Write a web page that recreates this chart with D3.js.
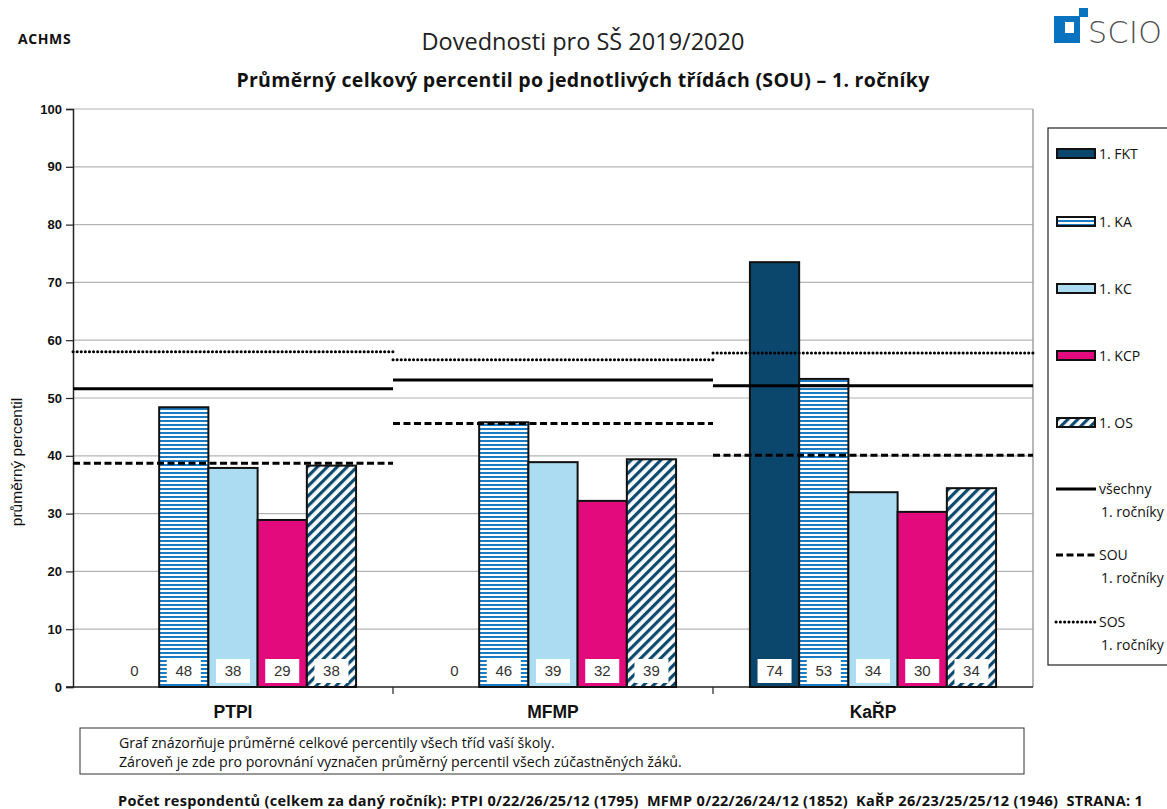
<!DOCTYPE html>
<html><head><meta charset="utf-8">
<script src="https://cdn.jsdelivr.net/npm/d3@7"></script>
<style>
body{margin:0;background:#fff;}
svg{display:block;}
</style></head>
<body>
<svg id="c" width="1167" height="809"></svg>
<script>
const categories = ["PTPI", "MFMP", "KaŘP"];
const series = ["1. FKT", "1. KA", "1. KC", "1. KCP", "1. OS"];
const valFKT = [0, 0, 73.5];
const valKA  = [48.4, 45.8, 53.3];
const valKC  = [37.9, 38.9, 33.7];
const valKCP = [28.9, 32.2, 30.3];
const valOS  = [38.3, 39.4, 34.4];
const labelsFKT = ["0", "0", "74"];
const labelsKA  = ["48", "46", "53"];
const labelsKC  = ["38", "39", "34"];
const labelsKCP = ["29", "32", "30"];
const labelsOS  = ["38", "39", "34"];
const lineAll = [51.6, 53.1, 52.1];   // všechny 1. ročníky
const lineSOU = [38.7, 45.6, 40.1];   // SOU 1. ročníky
const lineSOS = [58.0, 56.6, 57.8];   // SOS 1. ročníky
const yTicks = [0,10,20,30,40,50,60,70,80,90,100];
const lineNames = [["všechny","1. ročníky"],["SOU","1. ročníky"],["SOS","1. ročníky"]];

const values = [valFKT, valKA, valKC, valKCP, valOS];
const labels = [labelsFKT, labelsKA, labelsKC, labelsKCP, labelsOS];
const fills = ["#0b466c", "url(#pKA)", "#acdcf2", "#e20a7c", "url(#pOS)"];

const svg = d3.select("#c");
const defs = svg.append("defs");
const pKA = defs.append("pattern").attr("id","pKA").attr("patternUnits","userSpaceOnUse").attr("width",8).attr("height",4);
pKA.append("rect").attr("width",8).attr("height",4).attr("fill","#ffffff");
pKA.append("rect").attr("y",0).attr("width",8).attr("height",2).attr("fill","#1b7cc4");
const pOS = defs.append("pattern").attr("id","pOS").attr("patternUnits","userSpaceOnUse").attr("width",7).attr("height",7).attr("patternTransform","rotate(45)");
pOS.append("rect").attr("width",7).attr("height",7).attr("fill","#ffffff");
pOS.append("rect").attr("x",0).attr("width",3.2).attr("height",7).attr("fill","#0d4a70");

const L = 73, R = 1033, T = 109, B = 687;
const x0 = d3.scaleBand().domain(categories).range([L, R]).padding(0);
const x1 = d3.scaleBand().domain(series).range([0, x0.bandwidth()]).paddingInner(0).paddingOuter(0.75);
const y = d3.scaleLinear().domain([0,100]).range([B, T]);

// gridlines
svg.append("g").selectAll("line").data(yTicks.filter(d=>d>0)).join("line")
  .attr("x1",L).attr("x2",R).attr("y1",d=>y(d)).attr("y2",d=>y(d))
  .attr("stroke","#b4b4b4").attr("stroke-width",1.2);
// right border
svg.append("line").attr("x1",R).attr("x2",R).attr("y1",T).attr("y2",B).attr("stroke","#a0a0a0").attr("stroke-width",1.5);

// y axis
const yAxis = d3.axisLeft(y).tickValues(yTicks).tickSize(7).tickPadding(4);
const gy = svg.append("g").attr("transform",`translate(${L},0)`).call(yAxis);
gy.select(".domain").attr("stroke","#222").attr("stroke-width",1.5);
gy.selectAll(".tick line").attr("stroke","#222").attr("stroke-width",1.2);
gy.selectAll(".tick text").attr("font-family","Liberation Sans, Arial, sans-serif").attr("font-weight","bold").attr("font-size",13).attr("fill","#111");

// x axis
const gx = svg.append("g").attr("transform",`translate(0,${B})`);
gx.append("line").attr("x1",L-7).attr("x2",R).attr("stroke","#222").attr("stroke-width",1.5);
gx.selectAll(".tk").data(categories.slice(1)).join("line").attr("class","tk")
  .attr("x1",d=>x0(d)).attr("x2",d=>x0(d)).attr("y1",0).attr("y2",7).attr("stroke","#222").attr("stroke-width",1.2);
gx.selectAll("text").data(categories).join("text")
  .attr("x",d=>x0(d)+x0.bandwidth()/2).attr("y",31).attr("text-anchor","middle")
  .attr("font-family","Liberation Sans, Arial, sans-serif").attr("font-weight","bold").attr("font-size",17.5).attr("fill","#111")
  .text(d=>d);

// bars
const barData = [];
categories.forEach((c,ci)=>series.forEach((s,si)=>barData.push({c,s,si,v:values[si][ci],lab:labels[si][ci]})));
const gb = svg.append("g");
gb.selectAll("rect").data(barData.filter(d=>d.v>0)).join("rect")
  .attr("x",d=>x0(d.c)+x1(d.s)).attr("width",x1.bandwidth())
  .attr("y",d=>y(d.v)).attr("height",d=>y(0)-y(d.v))
  .attr("fill",d=>fills[d.si]).attr("stroke","#111").attr("stroke-width",2);

// reference lines
const gl = svg.append("g");
const lineDefs = [
  {vals:lineAll, dash:null},
  {vals:lineSOU, dash:"7,3.5"},
  {vals:lineSOS, dash:"0.1,4"}
];
lineDefs.forEach((ld,li)=>{
  gl.selectAll(".l"+li).data(categories).join("line").attr("class","l"+li)
    .attr("x1",d=>x0(d)).attr("x2",d=>x0(d)+x0.bandwidth())
    .attr("y1",(d,i)=>y(ld.vals[i])).attr("y2",(d,i)=>y(ld.vals[i]))
    .attr("stroke","#000").attr("stroke-width",3)
    .attr("stroke-dasharray",ld.dash)
    .attr("stroke-linecap",li===2?"round":"butt");
});

// value labels
const gv = svg.append("g");
const lblG = gv.selectAll("g").data(barData).join("g")
  .attr("transform",d=>`translate(${x0(d.c)+x1(d.s)+x1.bandwidth()/2},${B-16})`);
lblG.filter(d=>d.v>0).append("rect").attr("x",-17).attr("y",-12).attr("width",34).attr("height",24).attr("fill","#fff");
lblG.append("text").attr("text-anchor","middle").attr("dy","0.35em")
  .attr("font-family","Liberation Sans, Arial, sans-serif").attr("font-size",15).attr("fill","#333")
  .text(d=>d.lab);

// y title
svg.append("text").attr("transform","translate(22,462) rotate(-90)").attr("text-anchor","middle")
  .attr("font-family","Liberation Sans, Arial, sans-serif").attr("font-size",15.5).attr("fill","#111")
  .text("průměrný percentil");

// titles
const sans = "Open Sans, Noto Sans, sans-serif";
svg.append("text").attr("x",18).attr("y",44).attr("font-family",sans).attr("font-weight","bold").attr("font-size",14).attr("letter-spacing",0.6).attr("fill","#111").text("ACHMS");
svg.append("text").attr("x",583).attr("y",50).attr("text-anchor","middle").attr("font-family",sans).attr("font-size",23.5).attr("fill","#222").text("Dovednosti pro SŠ 2019/2020");
svg.append("text").attr("x",583).attr("y",87).attr("text-anchor","middle").attr("font-family",sans).attr("font-weight","bold").attr("font-size",19.5).attr("letter-spacing",0.3).attr("fill","#111").text("Průměrný celkový percentil po jednotlivých třídách (SOU) – 1. ročníky");

// logo
const lg = svg.append("g");
lg.append("rect").attr("x",1054).attr("y",16).attr("width",26).attr("height",27).attr("fill","#0a73bf");
lg.append("rect").attr("x",1065).attr("y",22).attr("width",9).attr("height",11).attr("fill","#fff");
lg.append("rect").attr("x",1079).attr("y",8).attr("width",9).attr("height",9).attr("fill","#0a73bf");
lg.append("text").attr("x",1088).attr("y",43).attr("font-family","DejaVu Sans, sans-serif").attr("font-weight",200).attr("font-size",30).attr("fill","#4d4d4d").attr("letter-spacing",0.5).text("SCIO");

// legend
const lsz = 14;
const leg = svg.append("g");
leg.append("rect").attr("x",1048).attr("y",128).attr("width",130).attr("height",537).attr("fill","#fff").attr("stroke","#222").attr("stroke-width",1.2);
const legY = [154,222,289,356,423];
series.forEach((s,i)=>{
  leg.append("rect").attr("x",1057).attr("y",legY[i]-5).attr("width",38).attr("height",9).attr("fill",fills[i]).attr("stroke","#111").attr("stroke-width",2);
  leg.append("text").attr("x",1099).attr("y",legY[i]).attr("dy","0.35em").attr("font-family",sans).attr("font-size",lsz).attr("fill","#111").text(s);
});
const legLY = [489,555,622];
lineNames.forEach((n,i)=>{
  leg.append("line").attr("x1",1056).attr("x2",1096).attr("y1",legLY[i]).attr("y2",legLY[i])
    .attr("stroke","#000").attr("stroke-width",3).attr("stroke-dasharray",lineDefs[i].dash ? (i===1?"7,3.5":"0.1,4.2") : null)
    .attr("stroke-linecap",i===2?"round":"butt");
  leg.append("text").attr("x",1099).attr("y",legLY[i]).attr("dy","0.35em").attr("font-family",sans).attr("font-size",lsz).attr("fill","#111").text(n[0]);
  leg.append("text").attr("x",1101).attr("y",legLY[i]+23).attr("dy","0.35em").attr("font-family",sans).attr("font-size",lsz).attr("fill","#111").text(n[1]);
});

// note box
svg.append("rect").attr("x",80).attr("y",728).attr("width",944).attr("height",46).attr("fill","#fff").attr("stroke","#333").attr("stroke-width",1);
svg.append("text").attr("x",119).attr("y",748).attr("font-family",sans).attr("font-size",14.2).attr("fill","#111").text("Graf znázorňuje průměrné celkové percentily všech tříd vaší školy.");
svg.append("text").attr("x",119).attr("y",767).attr("font-family",sans).attr("font-size",14.2).attr("fill","#111").text("Zároveň je zde pro porovnání vyznačen průměrný percentil všech zúčastněných žáků.");

svg.append("text").attr("x",118).attr("y",806).attr("font-family",sans).attr("font-weight","bold").attr("font-size",14.5).attr("letter-spacing",0.3).attr("fill","#111")
  .attr("xml:space","preserve").style("white-space","pre")
  .text("Počet respondentů (celkem za daný ročník): PTPI 0/22/26/25/12 (1795)  MFMP 0/22/26/24/12 (1852)  KaŘP 26/23/25/25/12 (1946)  STRANA: 1");
</script>
</body></html>
